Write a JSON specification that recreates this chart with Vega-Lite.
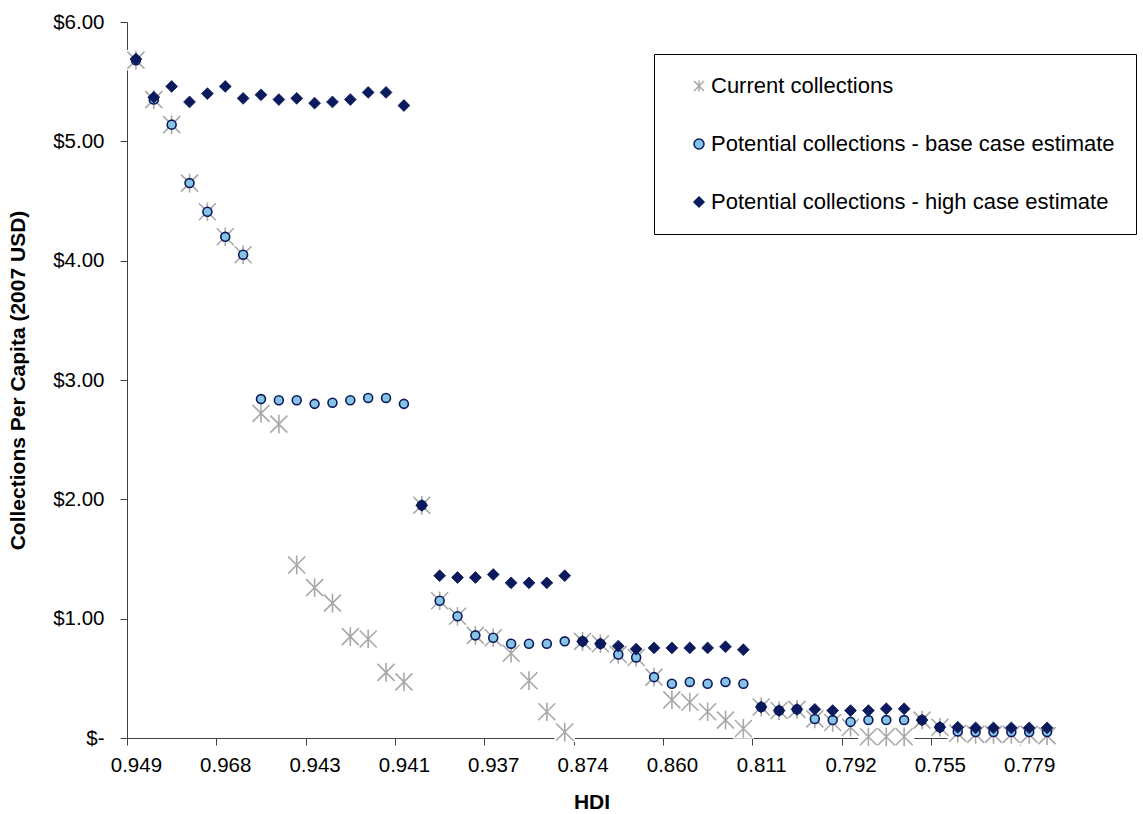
{
  "$schema": "https://vega.github.io/schema/vega-lite/v6.json",
  "width": 929,
  "height": 716,
  "autosize": "none",
  "padding": {"left": 127, "top": 22, "right": 87, "bottom": 76},
  "background": "white",
  "config": {
    "view": {"stroke": null},
    "font": "Liberation Sans",
    "legend": {
      "orient": "none",
      "legendX": 527,
      "legendY": 32,
      "title": null,
      "padding": 21,
      "strokeColor": "#000000",
      "fillColor": "#ffffff",
      "labelFontSize": 22,
      "labelColor": "#000000",
      "labelLimit": 600,
      "rowPadding": 36,
      "symbolSize": 100,
      "symbolStrokeWidth": 1.5,
      "symbolOffset": 13,
      "labelOffset": 1
    }
  },
  "data": {
    "values": [
      {"idx": 0, "current": 5.68, "base": 5.68, "high": 5.69},
      {"idx": 1, "current": 5.35, "base": 5.35, "high": 5.37},
      {"idx": 2, "current": 5.14, "base": 5.14, "high": 5.46},
      {"idx": 3, "current": 4.65, "base": 4.65, "high": 5.33},
      {"idx": 4, "current": 4.41, "base": 4.41, "high": 5.40},
      {"idx": 5, "current": 4.20, "base": 4.20, "high": 5.46},
      {"idx": 6, "current": 4.05, "base": 4.05, "high": 5.36},
      {"idx": 7, "current": 2.72, "base": 2.84, "high": 5.39},
      {"idx": 8, "current": 2.63, "base": 2.83, "high": 5.35},
      {"idx": 9, "current": 1.45, "base": 2.83, "high": 5.36},
      {"idx": 10, "current": 1.26, "base": 2.80, "high": 5.32},
      {"idx": 11, "current": 1.13, "base": 2.81, "high": 5.33},
      {"idx": 12, "current": 0.85, "base": 2.83, "high": 5.35},
      {"idx": 13, "current": 0.83, "base": 2.85, "high": 5.41},
      {"idx": 14, "current": 0.55, "base": 2.85, "high": 5.41},
      {"idx": 15, "current": 0.47, "base": 2.80, "high": 5.30},
      {"idx": 16, "current": 1.95, "base": 1.95, "high": 1.95},
      {"idx": 17, "current": 1.15, "base": 1.15, "high": 1.36},
      {"idx": 18, "current": 1.02, "base": 1.02, "high": 1.345},
      {"idx": 19, "current": 0.86, "base": 0.86, "high": 1.345},
      {"idx": 20, "current": 0.84, "base": 0.84, "high": 1.37},
      {"idx": 21, "current": 0.71, "base": 0.79, "high": 1.30},
      {"idx": 22, "current": 0.48, "base": 0.79, "high": 1.30},
      {"idx": 23, "current": 0.22, "base": 0.79, "high": 1.30},
      {"idx": 24, "current": 0.05, "base": 0.81, "high": 1.36},
      {"idx": 25, "current": 0.81, "base": 0.81, "high": 0.81},
      {"idx": 26, "current": 0.79, "base": 0.79, "high": 0.79},
      {"idx": 27, "current": 0.70, "base": 0.70, "high": 0.77},
      {"idx": 28, "current": 0.675, "base": 0.675, "high": 0.745},
      {"idx": 29, "current": 0.51, "base": 0.51, "high": 0.755},
      {"idx": 30, "current": 0.32, "base": 0.455, "high": 0.755},
      {"idx": 31, "current": 0.30, "base": 0.47, "high": 0.755},
      {"idx": 32, "current": 0.22, "base": 0.455, "high": 0.755},
      {"idx": 33, "current": 0.15, "base": 0.47, "high": 0.765},
      {"idx": 34, "current": 0.08, "base": 0.455, "high": 0.74},
      {"idx": 35, "current": 0.26, "base": 0.26, "high": 0.26},
      {"idx": 36, "current": 0.23, "base": 0.23, "high": 0.23},
      {"idx": 37, "current": 0.24, "base": 0.24, "high": 0.24},
      {"idx": 38, "current": 0.16, "base": 0.16, "high": 0.24},
      {"idx": 39, "current": 0.13, "base": 0.15, "high": 0.23},
      {"idx": 40, "current": 0.09, "base": 0.135, "high": 0.23},
      {"idx": 41, "current": 0.01, "base": 0.15, "high": 0.23},
      {"idx": 42, "current": 0.01, "base": 0.15, "high": 0.245},
      {"idx": 43, "current": 0.01, "base": 0.15, "high": 0.245},
      {"idx": 44, "current": 0.15, "base": 0.15, "high": 0.15},
      {"idx": 45, "current": 0.09, "base": 0.09, "high": 0.09},
      {"idx": 46, "current": 0.04, "base": 0.055, "high": 0.09},
      {"idx": 47, "current": 0.03, "base": 0.05, "high": 0.085},
      {"idx": 48, "current": 0.03, "base": 0.05, "high": 0.085},
      {"idx": 49, "current": 0.03, "base": 0.05, "high": 0.085},
      {"idx": 50, "current": 0.03, "base": 0.05, "high": 0.085},
      {"idx": 51, "current": 0.02, "base": 0.05, "high": 0.085}
    ]
  },
  "encoding": {
    "x": {
      "field": "idx",
      "type": "quantitative",
      "scale": {"domain": [-0.5, 51.5], "nice": false, "zero": false},
      "axis": {
        "title": "HDI",
        "values": [-0.5, 4.5, 9.5, 14.5, 19.5, 24.5, 29.5, 34.5, 39.5, 44.5, 49.5],
        "labelOffset": 8.93,
        "labelExpr": "['0.949','0.968','0.943','0.941','0.937','0.874','0.860','0.811','0.792','0.755','0.779'][round((datum.value + 0.5) / 5)]",
        "labelAngle": 0,
        "labelOverlap": false,
        "labelFlush": false,
        "labelBound": false,
        "labelFontSize": 20.5,
        "labelColor": "#000000",
        "labelPadding": 10,
        "grid": false,
        "ticks": true,
        "tickSize": 7,
        "tickColor": "#404040",
        "domainColor": "#404040",
        "titleFontSize": 21,
        "titleFontWeight": "bold",
        "titleColor": "#000000",
        "titlePadding": 16
      }
    }
  },
  "layer": [
    {
      "mark": {"type": "point", "shape": "square", "filled": true, "color": "#ffffff", "size": 420, "opacity": 1, "strokeWidth": 0},
      "encoding": {
        "y": {
          "field": "current",
          "type": "quantitative",
          "scale": {"domain": [0, 6], "nice": false},
          "axis": {
            "title": "Collections Per Capita (2007 USD)",
            "values": [0, 1, 2, 3, 4, 5, 6],
            "labelExpr": "datum.value == 0 ? '$-\u00a0\u00a0\u00a0' : '$' + format(datum.value, '.2f')",
            "labelFontSize": 20.5,
            "labelColor": "#000000",
            "labelPadding": 16,
            "ticks": true,
            "tickSize": 7,
            "tickColor": "#404040",
            "domainColor": "#404040",
            "grid": false,
            "titleFontSize": 21,
            "titleFontWeight": "bold",
            "titleColor": "#000000",
            "titlePadding": 24
          }
        }
      }
    },
    {
      "mark": {"type": "point", "size": 289, "strokeWidth": 1.6, "opacity": 1},
      "encoding": {
        "y": {
          "field": "current",
          "type": "quantitative",
          "scale": {"domain": [0, 6], "nice": false},
          "axis": {
            "title": "Collections Per Capita (2007 USD)",
            "values": [0, 1, 2, 3, 4, 5, 6],
            "labelExpr": "datum.value == 0 ? '$-\u00a0\u00a0\u00a0' : '$' + format(datum.value, '.2f')",
            "labelFontSize": 20.5,
            "labelColor": "#000000",
            "labelPadding": 16,
            "ticks": true,
            "tickSize": 7,
            "tickColor": "#404040",
            "domainColor": "#404040",
            "grid": false,
            "titleFontSize": 21,
            "titleFontWeight": "bold",
            "titleColor": "#000000",
            "titlePadding": 24
          }
        },
        "shape": {
          "datum": "Current collections",
          "type": "nominal",
          "scale": {
            "domain": ["Current collections", "Potential collections - base case estimate", "Potential collections - high case estimate"],
            "range": ["M-1,-1L1,1M-1,1L1,-1M0,-1.1L0,1.1", "circle", "diamond"]
          }
        },
        "fill": {
          "datum": "Current collections",
          "type": "nominal",
          "scale": {
            "domain": ["Current collections", "Potential collections - base case estimate", "Potential collections - high case estimate"],
            "range": ["transparent", "#86C3E4", "#0B1A5C"]
          }
        },
        "stroke": {
          "datum": "Current collections",
          "type": "nominal",
          "scale": {
            "domain": ["Current collections", "Potential collections - base case estimate", "Potential collections - high case estimate"],
            "range": ["#A8A8A8", "#0B1A5C", "#0B1A5C"]
          }
        }
      }
    },
    {
      "mark": {"type": "point", "size": 80, "strokeWidth": 1.6, "opacity": 1},
      "encoding": {
        "y": {
          "field": "base",
          "type": "quantitative",
          "axis": {
            "title": "Collections Per Capita (2007 USD)",
            "values": [0, 1, 2, 3, 4, 5, 6],
            "labelExpr": "datum.value == 0 ? '$-\u00a0\u00a0\u00a0' : '$' + format(datum.value, '.2f')",
            "labelFontSize": 20.5,
            "labelColor": "#000000",
            "labelPadding": 16,
            "ticks": true,
            "tickSize": 7,
            "tickColor": "#404040",
            "domainColor": "#404040",
            "grid": false,
            "titleFontSize": 21,
            "titleFontWeight": "bold",
            "titleColor": "#000000",
            "titlePadding": 24
          }
        },
        "shape": {"datum": "Potential collections - base case estimate", "type": "nominal"},
        "fill": {"datum": "Potential collections - base case estimate", "type": "nominal"},
        "stroke": {"datum": "Potential collections - base case estimate", "type": "nominal"}
      }
    },
    {
      "mark": {"type": "point", "size": 140, "strokeWidth": 0.8, "opacity": 1},
      "encoding": {
        "y": {
          "field": "high",
          "type": "quantitative",
          "axis": {
            "title": "Collections Per Capita (2007 USD)",
            "values": [0, 1, 2, 3, 4, 5, 6],
            "labelExpr": "datum.value == 0 ? '$-\u00a0\u00a0\u00a0' : '$' + format(datum.value, '.2f')",
            "labelFontSize": 20.5,
            "labelColor": "#000000",
            "labelPadding": 16,
            "ticks": true,
            "tickSize": 7,
            "tickColor": "#404040",
            "domainColor": "#404040",
            "grid": false,
            "titleFontSize": 21,
            "titleFontWeight": "bold",
            "titleColor": "#000000",
            "titlePadding": 24
          }
        },
        "shape": {"datum": "Potential collections - high case estimate", "type": "nominal"},
        "fill": {"datum": "Potential collections - high case estimate", "type": "nominal"},
        "stroke": {"datum": "Potential collections - high case estimate", "type": "nominal"}
      }
    }
  ]
}
